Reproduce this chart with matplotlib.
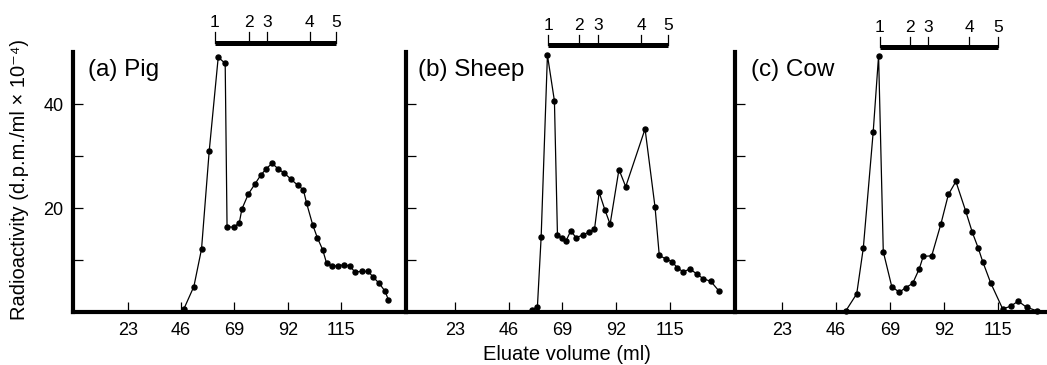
import matplotlib
matplotlib.use("Agg")
import matplotlib.pyplot as plt

plt.rcParams['font.family'] = ['Liberation Sans', 'DejaVu Sans']

# eluate volume (ml) / radioactivity (d.p.m./ml x 10^-4)
pig_x = [47.2, 51.5, 54.8, 58.1, 62.0, 65.0, 65.8, 68.8, 71.1, 72.2, 75.0, 77.8,
         80.3, 82.6, 85.2, 87.9, 90.5, 93.2, 96.2, 98.7, 100.1, 102.7, 104.7,
         107.0, 108.7, 110.9, 113.8, 116.3, 118.8, 120.9, 123.8, 126.7, 128.6,
         131.4, 133.9, 135.3]
pig_y = [0.6, 4.9, 12.1, 30.9, 49.0, 47.8, 16.4, 16.3, 17.2, 19.8, 22.7, 24.6,
         26.3, 27.5, 28.6, 27.5, 26.7, 25.6, 24.4, 23.5, 20.9, 16.8, 14.3,
         12.0, 9.4, 8.8, 8.9, 9.1, 8.8, 7.7, 7.8, 7.8, 6.8,
         5.5, 4.0, 2.4]

sheep_x = [55.9, 58.3, 59.9, 62.6, 65.6, 66.9, 68.8, 70.6, 72.6, 74.9, 77.8,
           80.5, 82.8, 84.8, 87.3, 89.5, 93.3, 96.2, 104.5, 108.8, 110.6,
           113.4, 116.0, 118.4, 120.9, 123.8, 126.7, 129.5, 132.7, 136.3]
sheep_y = [0.4, 1.0, 14.4, 49.4, 40.6, 14.9, 14.2, 13.7, 15.6, 14.3, 14.8,
           15.4, 15.9, 23.0, 19.6, 16.9, 27.4, 24.1, 35.2, 20.1, 10.9,
           10.2, 9.7, 8.5, 7.7, 8.3, 7.3, 6.4, 5.9, 4.0]

cow_x = [50.2, 54.8, 57.6, 61.8, 64.1, 66.1, 69.7, 72.9, 75.7, 78.6, 81.4,
         83.1, 86.7, 90.6, 93.8, 97.0, 101.1, 104.0, 106.5, 108.4, 111.8,
         116.9, 120.3, 123.5, 127.1, 131.4]
cow_y = [0.25, 3.5, 12.3, 34.6, 49.3, 11.6, 4.9, 3.8, 4.7, 5.5, 8.3,
         10.7, 10.8, 16.9, 22.6, 25.1, 19.5, 15.3, 12.3, 9.7, 5.6,
         0.6, 1.1, 2.1, 0.9, 0.25]

# marker positions (fractions 1-5) on the bar above each panel
pig_marks = [60.6, 75.3, 83.0, 101.5, 112.8]
sheep_marks = [62.9, 76.2, 84.3, 102.8, 114.4]
cow_marks = [64.7, 77.4, 85.1, 102.6, 114.9]
mark_labels = ['1', '2', '3', '4', '5']

titles = ['(a) Pig', '(b) Sheep', '(c) Cow']
xticks = [23, 46, 69, 92, 115]

fig = plt.figure(figsize=(10.47, 3.65), dpi=100)
W, H = 1047.0, 365.0

# left px, right px, xlim start, px per ml, bar y, title x frac
panels = [
    (73, 406, -0.6, 2.32, 51.8, 0.045),
    (406, 735, 1.9, 2.33, 51.3, 0.036),
    (735, 1047, 3.0, 2.35, 50.9, 0.051),
]
data = [(pig_x, pig_y, pig_marks), (sheep_x, sheep_y, sheep_marks),
        (cow_x, cow_y, cow_marks)]

bottom_px, top_px = 312, 52
for i, (left, right, x0, scale, bar_y, tx) in enumerate(panels):
    ax = fig.add_axes([left / W, (H - bottom_px) / H, (right - left) / W,
                       (bottom_px - top_px) / H])
    xs, ys, marks = data[i]
    ax.plot(xs, ys, '-o', color='black', lw=0.9, ms=3.6, clip_on=False)
    ax.set_xlim(x0, x0 + (right - left) / scale)
    ax.set_ylim(0, 50)
    for s in ['top', 'right']:
        ax.spines[s].set_visible(False)
    for s in ['left', 'bottom']:
        ax.spines[s].set_linewidth(3.0)
    ax.set_xticks(xticks)
    ax.set_xticklabels([str(t) for t in xticks])
    ax.set_yticks([10, 20, 30, 40])
    if i == 0:
        ax.set_yticklabels(['', '20', '', '40'])
    else:
        ax.set_yticklabels(['', '', '', ''])
    ax.tick_params(direction='in', length=7, width=0.9, labelsize=13, pad=7)

    ax.text(tx, 0.93, titles[i], transform=ax.transAxes, fontsize=17.5,
            va='center', ha='left')

    # fraction bar
    ax.plot([marks[0], marks[-1]], [bar_y, bar_y], color='black', lw=3.6,
            solid_capstyle='butt', clip_on=False)
    for m, lab in zip(marks, mark_labels):
        ax.plot([m, m], [bar_y, bar_y + 2.0], color='black', lw=0.9,
                clip_on=False)
        ax.text(m, bar_y + 3.8, lab, fontsize=12.5, ha='center',
                va='center', clip_on=False)

fig.text(20 / W, 1 - 179 / H, 'Radioactivity (d.p.m./ml × 10⁻⁴)',
         rotation=90, fontsize=14.5, ha='center', va='center')
fig.text(567 / W, 1 - 355 / H, 'Eluate volume (ml)', fontsize=14.5,
         ha='center', va='center')

fig.savefig('out.png', dpi=100)
